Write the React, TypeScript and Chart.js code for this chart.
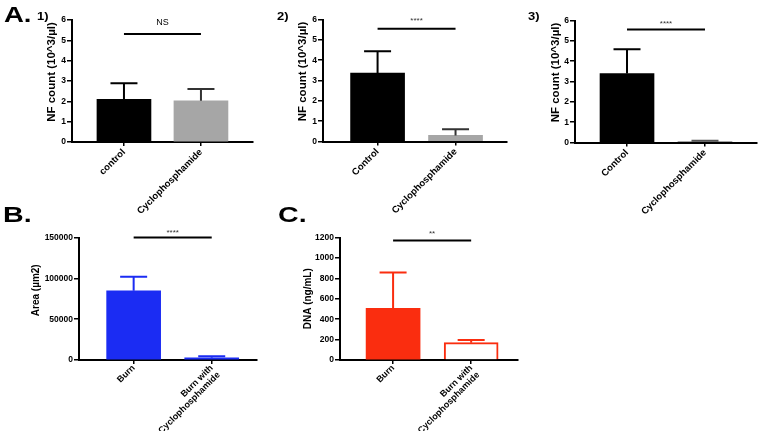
import React, { useEffect, useRef } from 'react';
import { Chart, registerables } from 'chart.js';

Chart.register(...registerables);

const FONT = "'Liberation Sans', Arial, Helvetica, sans-serif";

// ---------------- data ----------------
const a1Categories = ['control', 'Cyclophosphamide'];
const a1Means = [2.1, 2.03];
const a1Errors = [0.79, 0.58];
const a1SigLevel = 5.31;
const a1SigLabel = 'NS';

const a2Categories = ['Control', 'Cyclophosphamide'];
const a2Means = [3.36, 0.3];
const a2Errors = [1.08, 0.3];
const a2SigLevel = 5.54;
const a2SigLabel = '****';

const a3Categories = ['Control', 'Cyclophosphamide'];
const a3Means = [3.39, 0.06];
const a3Errors = [1.2, 0.03];
const a3SigLevel = 5.56;
const a3SigLabel = '****';

const bCategories = [['Burn'], ['Burn with', 'Cyclophosphamide']];
const bMeans = [84700, 2800];
const bErrors = [17100, 1700];
const bSigLevel = 150000;
const bSigLabel = '****';

const cCategories = [['Burn'], ['Burn with', 'Cyclophosphamide']];
const cMeans = [507, 170];
const cErrors = [350, 26];
const cSigLevel = 1170;
const cSigLabel = '**';

const nfTicks = [0, 1, 2, 3, 4, 5, 6];
const areaTicks = [0, 50000, 100000, 150000];
const dnaTicks = [0, 200, 400, 600, 800, 1000, 1200];

// ---------------- plugins ----------------
const errorBarPlugin = {
  id: 'errorBars',
  afterDatasetsDraw(chart: any, _args: any, opts: any) {
    const { ctx } = chart;
    const y = chart.scales.y;
    const meta = chart.getDatasetMeta(0);
    const data = chart.data.datasets[0].data;
    (opts.errors || []).forEach((e: number, i: number) => {
      const el = meta.data[i];
      if (!el) return;
      const v = data[i].y;
      const x = el.x;
      const yb = y.getPixelForValue(v);
      const yt = y.getPixelForValue(v + e);
      ctx.save();
      ctx.strokeStyle = opts.colors[i];
      ctx.lineWidth = opts.lineWidth || 2;
      ctx.beginPath();
      ctx.moveTo(x, yb);
      ctx.lineTo(x, yt);
      ctx.moveTo(x - opts.capHalf, yt);
      ctx.lineTo(x + opts.capHalf, yt);
      ctx.stroke();
      ctx.restore();
    });
  },
};

const sigPlugin = {
  id: 'sig',
  afterDraw(chart: any, _args: any, opts: any) {
    const { ctx } = chart;
    const xs = chart.scales.x;
    const ys = chart.scales.y;
    const x1 = xs.getPixelForValue(1);
    const x2 = xs.getPixelForValue(2);
    const yy = ys.getPixelForValue(opts.level);
    ctx.save();
    ctx.strokeStyle = '#000';
    ctx.lineWidth = 2;
    ctx.beginPath();
    ctx.moveTo(x1, yy);
    ctx.lineTo(x2, yy);
    ctx.stroke();
    ctx.fillStyle = opts.color || '#000';
    ctx.font = opts.font;
    ctx.textAlign = 'center';
    ctx.textBaseline = 'alphabetic';
    ctx.fillText(opts.label, (x1 + x2) / 2, yy - opts.gap);
    ctx.restore();
  },
};

const yTitlePlugin = {
  id: 'yTitle',
  afterDraw(chart: any, _args: any, opts: any) {
    const { ctx, chartArea } = chart;
    const x = chartArea.left - opts.dx;
    const y = (chartArea.top + chartArea.bottom) / 2 + opts.dy;
    ctx.save();
    ctx.translate(x, y);
    ctx.rotate(-Math.PI / 2);
    ctx.fillStyle = '#000';
    ctx.font = opts.font;
    ctx.textAlign = 'center';
    ctx.textBaseline = 'middle';
    ctx.fillText(opts.text, 0, 0);
    ctx.restore();
  },
};

type Spec = {
  canvas: [number, number, number, number];
  area: [number, number, number, number];
  xRange: [number, number];
  categories: (string | string[])[];
  means: number[];
  errors: number[];
  yTicks: number[];
  fill: string[];
  border: string[];
  borderWidth: number[];
  errColor: string[];
  xFont: number;
  xPad: number;
  title: string;
  titleFont: string;
  titleDx: number;
  titleDy: number;
  sigLevel: number;
  sigLabel: string;
  sigFont: string;
  sigGap: number;
  sigColor: string;
};

function Panel({ spec }: { spec: Spec }) {
  const ref = useRef<HTMLCanvasElement>(null);
  useEffect(() => {
    if (!ref.current) return;
    const [cx, cy, cw, ch] = spec.canvas;
    const [al, at, ar, ab] = spec.area;
    const gridOpts = {
      display: true,
      drawOnChartArea: false,
      drawTicks: true,
      tickLength: 5,
      color: '#000',
      lineWidth: 1.5,
      offset: false,
    };
    const chart = new Chart(ref.current, {
      type: 'bar',
      data: {
        datasets: [
          {
            data: spec.means.map((m, i) => ({ x: i + 1, y: m })),
            backgroundColor: spec.fill,
            borderColor: spec.border,
            borderWidth: spec.borderWidth,
            borderSkipped: 'start',
            barThickness: 54,
          } as any,
        ],
      },
      options: {
        animation: false,
        responsive: false,
        maintainAspectRatio: false,
        devicePixelRatio: 1,
        layout: { padding: { left: 0, top: at - cy, right: cx + cw - ar, bottom: 0 } },
        plugins: {
          legend: { display: false },
          tooltip: { enabled: false },
          errorBars: { errors: spec.errors, colors: spec.errColor, capHalf: 13.5, lineWidth: 2 },
          sig: { level: spec.sigLevel, label: spec.sigLabel, font: spec.sigFont, gap: spec.sigGap, color: spec.sigColor },
          yTitle: { text: spec.title, font: spec.titleFont, dx: spec.titleDx, dy: spec.titleDy },
        } as any,
        scales: {
          x: {
            type: 'linear',
            offset: false,
            min: spec.xRange[0],
            max: spec.xRange[1],
            afterBuildTicks: (s: any) => {
              s.ticks = spec.categories.map((_, i) => ({ value: i + 1 }));
            },
            afterFit: (s: any) => {
              s.height = cy + ch - ab;
            },
            ticks: {
              autoSkip: false,
              minRotation: 45,
              maxRotation: 45,
              padding: spec.xPad,
              color: '#000',
              font: { family: FONT, size: spec.xFont, weight: 'bold', lineHeight: 1.1 },
              callback: (v: any) => spec.categories[Math.round(Number(v)) - 1] as any,
            },
            grid: { ...gridOpts, tickLength: 4 },
            border: { display: true, color: '#000', width: 2 },
          } as any,
          y: {
            type: 'linear',
            min: spec.yTicks[0],
            max: spec.yTicks[spec.yTicks.length - 1],
            afterBuildTicks: (s: any) => {
              s.ticks = spec.yTicks.map((v) => ({ value: v }));
            },
            afterFit: (s: any) => {
              s.width = al - cx;
            },
            ticks: {
              padding: 1,
              color: '#000',
              font: { family: FONT, size: 8.5, weight: 'bold' },
              callback: (v: any) => String(v),
            },
            grid: gridOpts,
            border: { display: true, color: '#000', width: 2 },
          } as any,
        },
      },
      plugins: [errorBarPlugin, sigPlugin, yTitlePlugin],
    });
    return () => chart.destroy();
  }, [spec]);
  const [cx, cy, cw, ch] = spec.canvas;
  return (
    <canvas
      ref={ref}
      width={cw}
      height={ch}
      style={{ position: 'absolute', left: cx, top: cy, width: cw, height: ch }}
    />
  );
}

const BLACK = '#000000';
const GRAY = '#a6a6a6';
const BLUE = '#1b2cf3';
const RED = '#fa2d0f';

const specs: Spec[] = [
  {
    canvas: [0, 0, 258, 218],
    area: [72, 20, 253, 142],
    xRange: [0.325, 2.676],
    categories: a1Categories,
    means: a1Means,
    errors: a1Errors,
    yTicks: nfTicks,
    fill: [BLACK, GRAY],
    border: [BLACK, GRAY],
    borderWidth: [0, 0],
    errColor: [BLACK, '#333333'],
    xFont: 9.5,
    xPad: 1,
    title: 'NF count (10^3/µl)',
    titleFont: `bold 11.5px ${FONT}`,
    titleDx: 20,
    titleDy: -9,
    sigLevel: a1SigLevel,
    sigLabel: a1SigLabel,
    sigFont: `9px ${FONT}`,
    sigGap: 9.3,
    sigColor: '#000',
  },
  {
    canvas: [258, 0, 252, 218],
    area: [323, 19.5, 507, 141.5],
    xRange: [0.3, 2.66],
    categories: a2Categories,
    means: a2Means,
    errors: a2Errors,
    yTicks: nfTicks,
    fill: [BLACK, GRAY],
    border: [BLACK, GRAY],
    borderWidth: [0, 0],
    errColor: [BLACK, '#333333'],
    xFont: 9.5,
    xPad: 1,
    title: 'NF count (10^3/µl)',
    titleFont: `bold 11.5px ${FONT}`,
    titleDx: 20,
    titleDy: -9,
    sigLevel: a2SigLevel,
    sigLabel: a2SigLabel,
    sigFont: `8px ${FONT}`,
    sigGap: 5.6,
    sigColor: '#333',
  },
  {
    canvas: [510, 0, 250, 218],
    area: [575, 20.5, 757, 142.5],
    xRange: [0.333, 2.667],
    categories: a3Categories,
    means: a3Means,
    errors: a3Errors,
    yTicks: nfTicks,
    fill: [BLACK, GRAY],
    border: [BLACK, GRAY],
    borderWidth: [0, 0],
    errColor: [BLACK, '#555555'],
    xFont: 9.5,
    xPad: 1,
    title: 'NF count (10^3/µl)',
    titleFont: `bold 11.5px ${FONT}`,
    titleDx: 19,
    titleDy: -9,
    sigLevel: a3SigLevel,
    sigLabel: a3SigLabel,
    sigFont: `8px ${FONT}`,
    sigGap: 3.7,
    sigColor: '#333',
  },
  {
    canvas: [0, 215, 258, 216],
    area: [79, 237.5, 257, 360],
    xRange: [0.3, 2.58],
    categories: bCategories,
    means: bMeans,
    errors: bErrors,
    yTicks: areaTicks,
    fill: [BLUE, BLUE],
    border: [BLUE, BLUE],
    borderWidth: [0, 0],
    errColor: [BLUE, BLUE],
    xFont: 9,
    xPad: -1,
    title: 'Area (µm2)',
    titleFont: `bold 10px ${FONT}`,
    titleDx: 43,
    titleDy: -8.5,
    sigLevel: bSigLevel,
    sigLabel: bSigLabel,
    sigFont: `8px ${FONT}`,
    sigGap: 2.7,
    sigColor: '#333',
  },
  {
    canvas: [258, 215, 262, 216],
    area: [340, 237.5, 518, 360],
    xRange: [0.32, 2.6],
    categories: cCategories,
    means: cMeans,
    errors: cErrors,
    yTicks: dnaTicks,
    fill: [RED, '#ffffff'],
    border: [RED, RED],
    borderWidth: [0, 2],
    errColor: [RED, RED],
    xFont: 9,
    xPad: -1,
    title: 'DNA (ng/mL)',
    titleFont: `bold 10px ${FONT}`,
    titleDx: 32,
    titleDy: 0,
    sigLevel: cSigLevel,
    sigLabel: cSigLabel,
    sigFont: `8px ${FONT}`,
    sigGap: 4.4,
    sigColor: '#333',
  },
];

function Label({ text, x, y, size, sx }: { text: string; x: number; y: number; size: number; sx: number }) {
  return (
    <div
      style={{
        position: 'absolute',
        left: x,
        top: y,
        fontFamily: FONT,
        fontWeight: 'bold',
        fontSize: size,
        lineHeight: 1,
        color: '#000',
        transform: `scaleX(${sx})`,
        transformOrigin: 'left top',
        whiteSpace: 'nowrap',
      }}
    >
      {text}
    </div>
  );
}

export default function App() {
  return (
    <div
      style={{
        position: 'absolute',
        left: 0,
        top: 0,
        width: 760,
        height: 431,
        background: '#fff',
        overflow: 'hidden',
      }}
    >
      {specs.map((s, i) => (
        <Panel key={i} spec={s} />
      ))}
      <Label text="A." x={4} y={4} size={22} sx={1.25} />
      <Label text="B." x={3} y={204} size={22} sx={1.3} />
      <Label text="C." x={278} y={204} size={22} sx={1.3} />
      <Label text="1)" x={37} y={11.7} size={10} sx={1.3} />
      <Label text="2)" x={277} y={11.7} size={10} sx={1.3} />
      <Label text="3)" x={528} y={11.7} size={10} sx={1.3} />
    </div>
  );
}
